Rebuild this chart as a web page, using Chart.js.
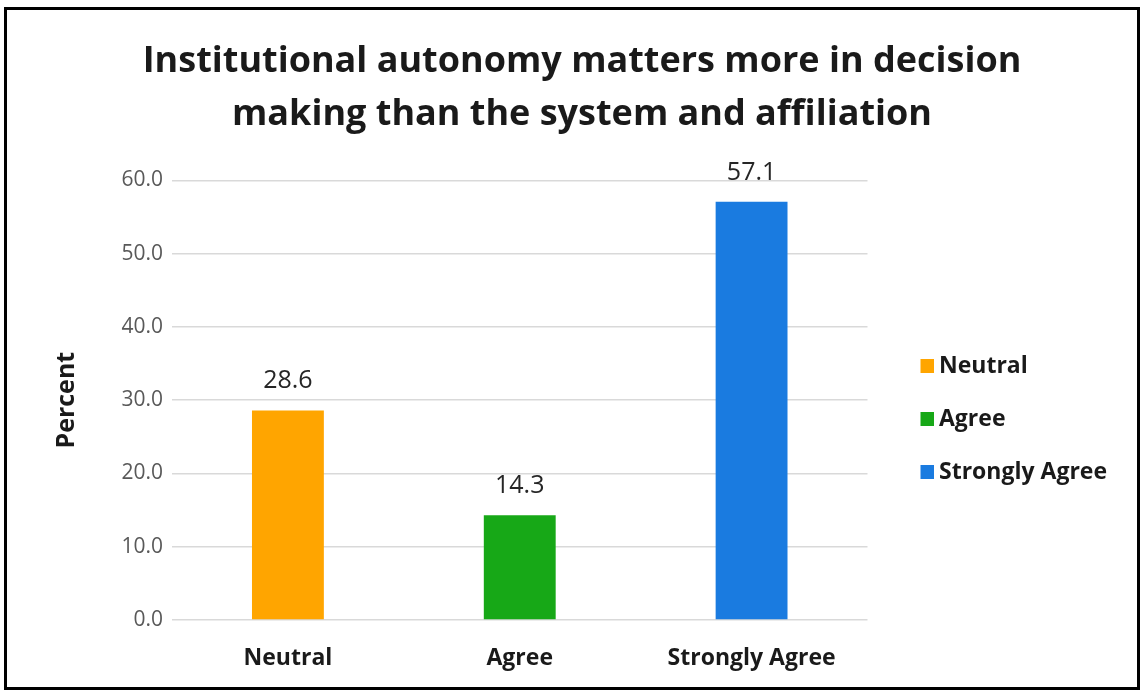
<!DOCTYPE html>
<html>
<head>
<meta charset="utf-8">
<script src="https://cdn.jsdelivr.net/npm/chart.js@4.4.1/dist/chart.umd.min.js"></script>
<style>
  html, body { margin: 0; padding: 0; background: #fff; }
  #frame {
    position: absolute; left: 4px; top: 7px; width: 1136px; height: 683px;
    border: 3px solid #000; box-sizing: border-box; background: #fff;
  }
  #frame canvas { display: block; }
</style>
</head>
<body>
<div id="frame"><canvas id="chart" width="1130" height="677"></canvas></div>
<script>
const categories = ['Neutral', 'Agree', 'Strongly Agree'];
const percents = [28.6, 14.3, 57.1];
const barColors = ['#FFA500', '#17A817', '#1A7BE0'];
const chartTitle = ['Institutional autonomy matters more in decision', 'making than the system and affiliation'];

const FONT = '"Open Sans", "Noto Sans", sans-serif';

// legend swatch: square sits at the right end of a wider transparent strip,
// which pushes the legend away from the plot without spreading the rows
function swatch(color) {
  const c = document.createElement('canvas');
  c.width = 44; c.height = 14;
  const g = c.getContext('2d');
  g.fillStyle = color;
  g.fillRect(30, 0, 14, 14);
  return c;
}

// write the value over each bar
const valueLabels = {
  id: 'valueLabels',
  afterDatasetsDraw(chart) {
    const ctx = chart.ctx;
    const meta = chart.getDatasetMeta(0);
    ctx.save();
    ctx.font = '25px ' + FONT;
    ctx.fillStyle = '#262626';
    ctx.textAlign = 'center';
    ctx.textBaseline = 'alphabetic';
    meta.data.forEach((bar, i) => {
      ctx.fillText(percents[i].toFixed(1), bar.x, bar.y - 22);
    });
    ctx.restore();
  }
};

new Chart(document.getElementById('chart').getContext('2d'), {
  type: 'bar',
  data: {
    labels: categories,
    datasets: [{
      label: 'Percent',
      data: percents,
      backgroundColor: barColors,
      categoryPercentage: 1,
      barPercentage: 0.31
    }]
  },
  options: {
    responsive: false,
    animation: false,
    layout: { padding: { left: 40, right: 20, top: 22, bottom: -10 } },
    plugins: {
      title: {
        display: true,
        text: chartTitle,
        color: '#1a1a1a',
        font: { family: FONT, size: 36, weight: 'bold', lineHeight: 1.45 },
        padding: { top: 4, bottom: 40 }
      },
      legend: {
        position: 'right',
        title: { display: true, text: '', padding: { top: 95, bottom: 0 } },
        labels: {
          color: '#1a1a1a',
          font: { family: FONT, size: 23, weight: 'bold' },
          usePointStyle: true,
          pointStyleWidth: 30,
          boxHeight: 14,
          padding: 30,
          generateLabels: () => categories.map((c, i) => ({
            text: c, fillStyle: barColors[i], strokeStyle: barColors[i], fontColor: '#1a1a1a',
            lineWidth: 0, pointStyle: swatch(barColors[i]), index: i
          }))
        }
      },
      tooltip: { enabled: false }
    },
    scales: {
      x: {
        grid: { display: false, drawTicks: false },
        border: { display: false },
        ticks: { color: '#1a1a1a', font: { family: FONT, size: 23, weight: 'bold', lineHeight: 1 }, padding: 27 }
      },
      y: {
        min: 0, max: 60,
        afterFit: s => { s.width = 125; },
        ticks: {
          stepSize: 10, color: '#595959', padding: 9,
          font: { family: FONT, size: 21 },
          callback: v => v.toFixed(1)
        },
        grid: { color: '#d9d9d9', lineWidth: 1.5, drawTicks: false },
        border: { display: false },
        title: {
          display: true, text: 'Percent', color: '#1a1a1a',
          font: { family: FONT, size: 25, weight: 'bold' }, padding: { top: 5, bottom: 0 }
        }
      }
    }
  },
  plugins: [valueLabels]
});
</script>
</body>
</html>
